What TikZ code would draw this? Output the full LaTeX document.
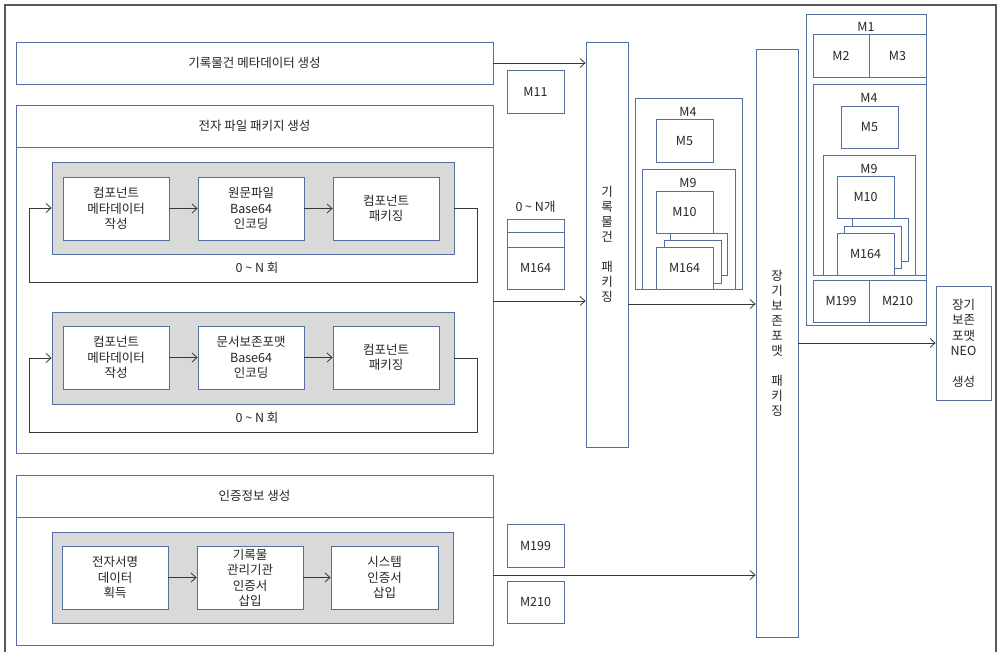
\documentclass[tikz,border=0pt]{standalone}
\usepackage{fontspec}
\setmainfont{Noto Sans CJK KR}
\usetikzlibrary{arrows.meta, positioning}
\definecolor{boxline}{RGB}{84,112,158}
\definecolor{panelgrey}{RGB}{217,217,217}
\definecolor{wire}{RGB}{55,55,55}

\begin{document}
\begin{tikzpicture}[x=1pt, y=-1pt, >={Straight Barb[length=5pt,width=9pt]},
		font=\fontsize{12.5}{15.5}\selectfont, text=black!85,
		box/.style={draw=boxline, line width=0.8pt, fill=white, inner sep=0pt, align=center},
		greybox/.style={box, fill=panelgrey},
		arr/.style={->, draw=wire, line width=0.8pt},
		frame/.style={draw=black!65, line width=1.2pt}]
				\useasboundingbox (0,0) rectangle (1000,651);
				\draw[frame] (5,660) |- (996,5) -- (996,660);
				
				% Metadata
				\node[box, minimum width=477, minimum height=42] (meta) at (254.5,63) {기록물건 메타데이터 생성};
				
				% Electronic file package
				\node[box, minimum width=477, minimum height=348] (efile) at (254.5,279) {};
				\node[box, minimum width=477, minimum height=42] (efilehd) at (254.5,126) {전자 파일 패키지 생성};
				
				\node[greybox, minimum width=402, minimum height=92] (grey1) at (253,208) {};
				\node[box, minimum width=106, minimum height=63] (a1) at (116,208.5) {컴포넌트\\메타데이터\\작성};
				\node[box, minimum width=106, minimum height=63] (a2) at (251,208.5) {원문파일\\Base64\\인코딩};
				\node[box, minimum width=106, minimum height=63] (a3) at (386,208.5) {컴포넌트\\패키징};
				\draw[arr] (a1) -- (a2);
				\draw[arr] (a2) -- (a3);
				\draw[arr] (grey1.east) -| ++(23,74) -| ([xshift=-22pt]grey1.west) -- (grey1.west);
				\node (loop1) at (257,268) {0 \textasciitilde{} N 회};
				
				\node[greybox, minimum width=402, minimum height=92] (grey2) at (253,358) {};
				\node[box, minimum width=106, minimum height=63] (b1) at (116,357.5) {컴포넌트\\메타데이터\\작성};
				\node[box, minimum width=106, minimum height=63] (b2) at (251,357.5) {문서보존포맷\\Base64\\인코딩};
				\node[box, minimum width=106, minimum height=63] (b3) at (386,357.5) {컴포넌트\\패키징};
				\draw[arr] (b1) -- (b2);
				\draw[arr] (b2) -- (b3);
				\draw[arr] (grey2.east) -| ++(23,74) -| ([xshift=-22pt]grey2.west) -- (grey2.west);
				\node (loop2) at (257,418) {0 \textasciitilde{} N 회};
				
				% Certificate
				\node[box, minimum width=477, minimum height=170] (cert) at (254.5,560) {};
				\node[box, minimum width=477, minimum height=42] (certhd) at (254.5,496) {인증정보 생성};
				
				\node[greybox, minimum width=401, minimum height=91] (grey3) at (252.5,577.5) {};
				\node[box, minimum width=106, minimum height=63] (c1) at (115,577.5) {전자서명\\데이터\\획득};
				\node[box, minimum width=106, minimum height=63] (c2) at (250,577.5) {기록물\\관리기관\\인증서\\삽입};
				\node[box, minimum width=107, minimum height=63] (c3) at (384.5,577.5) {시스템\\인증서\\삽입};
				\draw[arr] (c1) -- (c2);
				\draw[arr] (c2) -- (c3);
				
				% Items between
				\node[box, minimum width=57, minimum height=43] (m11) at (535.5,91.5) {M11};
				\node (cnt) at (535.5,207) {0 \textasciitilde{} N개};
				\node[box, minimum width=57, minimum height=13] (cnt1) at (535.5,225.5) {};
				\node[box, minimum width=57, minimum height=15] (cnt2) at (535.5,239.5) {};
				\node[box, minimum width=57, minimum height=42] (cnt3) at (535.5,268) {M164};
				\node[box, minimum width=57, minimum height=43] (m199) at (535.5,545.5) {M199};
				\node[box, minimum width=57, minimum height=42] (m210) at (535.5,602) {M210};
				
				% Record item package
				\node[box, minimum width=42, minimum height=405, font=\fontsize{12.5}{15}\selectfont] (pkg1) at (607,244.5) {기\\록\\물\\건\\[15pt]패\\키\\징};
				\coordinate (e1) at (493,301);
				\coordinate (e2) at (493,575);
				\coordinate (p1) at (628,304);
				\draw[arr] (meta.east) -- (meta.east -| pkg1.west);
				\draw[arr] (e1) -- (e1 -| pkg1.west);
				
				% Record item structure
				\node[box, minimum width=107, minimum height=191] (g4) at (688.5,193.5) {};
				\node (g4lbl) at (688,112) {M4};
				\node[box, minimum width=57, minimum height=43] (m5) at (684.5,140.5) {M5};
				\node[box, minimum width=93, minimum height=120] (g9) at (688.5,229) {};
				\node (g9lbl) at (688,183) {M9};
				\node[box, minimum width=57, minimum height=42] (m10) at (684.5,212) {M10};
				\node[box, minimum width=57, minimum height=42] (s3) at (698.5,254) {};
				\node[box, minimum width=57, minimum height=43] (s2) at (692.5,261.5) {};
				\node[box, minimum width=57, minimum height=42] (s1) at (684.5,268) {M164};
				
				% Long-term preservation package
				\node[box, minimum width=42, minimum height=588, font=\fontsize{12.5}{15}\selectfont] (pkg2) at (777,343) {장\\기\\보\\존\\포\\맷\\[15pt]패\\키\\징};
				\draw[arr] (p1) -- (p1 -| pkg2.west);
				\draw[arr] (e2) -- (e2 -| pkg2.west);
				
				% Preservation format structure
				\node[box, minimum width=120, minimum height=311] (g1) at (866,169.5) {};
				\node (g1lbl) at (866,27) {M1};
				\node[box, minimum width=56, minimum height=43] (m2) at (841,55.5) {M2};
				\node[box, minimum width=57, minimum height=43] (m3) at (897.5,55.5) {M3};
				\node[box, minimum width=113, minimum height=191] (rg4) at (869.5,179.5) {};
				\node (rg4lbl) at (869,98) {M4};
				\node[box, minimum width=57, minimum height=42] (rm5) at (869.5,127) {M5};
				\node[box, minimum width=92, minimum height=120] (rg9) at (869,215) {};
				\node (rg9lbl) at (869,169) {M9};
				\node[box, minimum width=57, minimum height=42] (rm10) at (865.5,197) {M10};
				\node[box, minimum width=56, minimum height=43] (r3) at (880,239.5) {};
				\node[box, minimum width=57, minimum height=42] (r2) at (872.5,247) {};
				\node[box, minimum width=57, minimum height=42] (r1) at (865.5,254) {M164};
				\node[box, minimum width=56, minimum height=42] (rm199) at (841,301) {M199};
				\node[box, minimum width=57, minimum height=42] (rm210) at (897.5,301) {M210};
				
				% NEO
				\node[box, minimum width=55, minimum height=114] (neo) at (963.5,343) {장기\\보존\\포맷\\NEO\\[15pt]생성};
				\draw[arr] (pkg2) -- (neo);
			\end{tikzpicture}
\end{document}
